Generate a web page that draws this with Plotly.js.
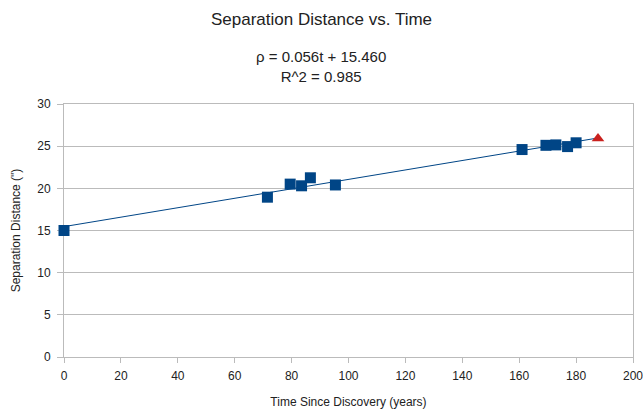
<!DOCTYPE html>
<html>
<head>
<meta charset="utf-8">
<script src="https://cdn.plot.ly/plotly-3.0.1.min.js"></script>
<style>html,body{margin:0;padding:0;background:#fff;}#chart{width:643px;height:409px;}</style>
</head>
<body>
<div id="chart"></div>
<script>
// Observed measurements
var timeYears = [0, 71.5, 79.5, 83.5, 86.6, 95.4, 161, 169.4, 172.9, 177, 180];
var separation = [15.0, 18.95, 20.5, 20.3, 21.25, 20.4, 24.6, 25.1, 25.15, 24.95, 25.4];
// Predicted point
var predTime = [187.7];
var predSep = [25.9];
// Trendline coefficients (from chart annotation)
var fitSlope = 0.056;
var fitIntercept = 15.460;
var fitRange = [0, 187.7];
var xTicks = [0, 20, 40, 60, 80, 100, 120, 140, 160, 180, 200];
var yTicks = [0, 5, 10, 15, 20, 25, 30];

var fitY = fitRange.map(function (t) { return fitSlope * t + fitIntercept; });

var traces = [
  {x: fitRange, y: fitY, mode: 'lines', line: {color: '#004586', width: 1}, hoverinfo: 'skip', showlegend: false, cliponaxis: false},
  {x: timeYears, y: separation, mode: 'markers', marker: {symbol: 'square', size: 11, color: '#004586'}, showlegend: false, cliponaxis: false},
  {x: predTime, y: predSep, mode: 'markers', marker: {symbol: 'triangle-up', size: 11, color: '#c9211e'}, showlegend: false, cliponaxis: false}
];

var fam = 'Liberation Sans, Arial, sans-serif';
var txt = '#222';
var layout = {
  width: 643, height: 409,
  margin: {l: 64, r: 10, t: 104, b: 52},
  paper_bgcolor: '#fff', plot_bgcolor: '#fff',
  font: {family: fam, size: 12, color: txt},
  title: {text: 'Separation Distance vs. Time', font: {family: fam, size: 17, color: txt}, x: 0.5, xref: 'container', xanchor: 'center', y: 0.953, yanchor: 'middle'},
  annotations: [
    {text: 'ρ = 0.056t + 15.460<br>R^2 = 0.985', xref: 'paper', yref: 'paper', x: 0.4525, y: 1.15, xanchor: 'center', yanchor: 'middle', showarrow: false, font: {family: fam, size: 15, color: txt}}
  ],
  xaxis: {
    range: [0, 200], tickvals: xTicks, ticktext: xTicks.map(String),
    ticks: 'outside', ticklen: 5, tickcolor: '#bbb', ticklabelstandoff: 3, ticklabeloverflow: 'allow', layer: 'below traces',
    showgrid: false, zeroline: false, showline: true, linecolor: '#bbb', linewidth: 1, mirror: true,
    title: {text: 'Time Since Discovery (years)', font: {family: fam, size: 12, color: txt}, standoff: 19},
    tickfont: {family: fam, size: 12, color: txt}
  },
  yaxis: {
    range: [0, 30], tickvals: yTicks, ticktext: yTicks.map(String),
    ticks: 'outside', ticklen: 6, tickcolor: '#bbb', ticklabelstandoff: 4, layer: 'below traces',
    showgrid: true, gridcolor: '#bbb', gridwidth: 1, zeroline: false, showline: true, linecolor: '#bbb', linewidth: 1, mirror: true,
    title: {text: 'Separation Distance (")', font: {family: fam, size: 12, color: txt}, standoff: 14},
    tickfont: {family: fam, size: 12, color: txt}
  }
};
Plotly.newPlot('chart', traces, layout, {displayModeBar: false, staticPlot: true});
</script>
</body>
</html>
